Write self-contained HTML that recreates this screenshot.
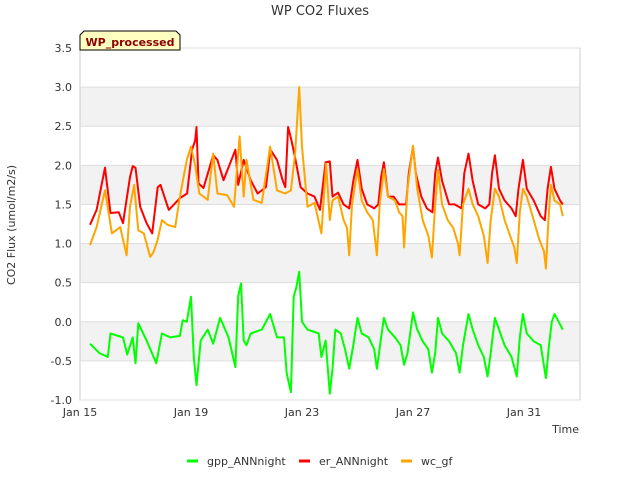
<!DOCTYPE html>
<html><head><meta charset="utf-8"><style>
body{margin:0;background:#fff;}
svg{display:block;font-family:"DejaVu Sans","Liberation Sans",sans-serif;}
</style></head><body>
<svg id="chart" width="640" height="480">
<text x="320" y="15" text-anchor="middle" font-size="13" fill="#333">WP CO2 Fluxes</text>
<g id="bands"></g>
<rect x="80" y="48" width="500" height="352" fill="none" stroke="#ccc"/>
<g id="yticks"></g><g id="xticks"></g>
<g id="series"></g>
<text x="15" y="225" transform="rotate(-90 15 225)" text-anchor="middle" font-size="11" fill="#333">CO2 Flux (umol/m2/s)</text>
<text x="579" y="433" text-anchor="end" font-size="11" fill="#333">Time</text>
<g>
<path d="M80,50 L80,35 L84,31 L176,31 L180,35 L180,50 Z" fill="#ffffc0" stroke="#000" stroke-width="1"/>
<text x="130" y="46" text-anchor="middle" font-size="11" font-weight="bold" fill="#8b0000">WP_processed</text>
</g>
<g>
<g><line x1="187" y1="461" x2="198" y2="461" stroke="#00ff00" stroke-width="3"/><text x="207" y="465" font-size="11" fill="#333">gpp_ANNnight</text></g>
<g><line x1="299" y1="461" x2="310" y2="461" stroke="#ff0000" stroke-width="3"/><text x="319" y="465" font-size="11" fill="#333">er_ANNnight</text></g>
<g><line x1="401" y1="461" x2="412" y2="461" stroke="#ffa500" stroke-width="3"/><text x="421" y="465" font-size="11" fill="#333">wc_gf</text></g>
</g>
</svg>
<script>
const yTicks=[-1.0,-0.5,0.0,0.5,1.0,1.5,2.0,2.5,3.0,3.5];
const xTickDays=[15,19,23,27,31];
const xTickLabels=["Jan 15","Jan 19","Jan 23","Jan 27","Jan 31"];
const erDays=[15.36,15.6,15.9,16.1,16.4,16.55,16.8,16.9,17.0,17.17,17.4,17.6,17.8,17.9,18.2,18.6,18.86,19.04,19.15,19.2,19.27,19.45,19.8,19.95,20.17,20.6,20.7,20.9,21.15,21.4,21.7,21.86,22.1,22.3,22.4,22.5,22.6,22.75,22.95,23.2,23.45,23.65,23.85,24.0,24.1,24.3,24.5,24.7,24.85,25.0,25.15,25.35,25.6,25.75,25.85,25.95,26.1,26.3,26.5,26.75,26.85,27.0,27.1,27.3,27.5,27.7,27.8,27.9,28.05,28.3,28.5,28.75,28.85,29.0,29.15,29.35,29.6,29.75,29.85,29.95,30.1,30.3,30.55,30.7,30.8,30.96,31.1,31.35,31.6,31.75,31.85,31.97,32.1,32.3,32.4];
const erValues=[1.24,1.43,1.97,1.39,1.4,1.26,1.85,1.99,1.97,1.47,1.26,1.13,1.72,1.75,1.43,1.58,1.64,2.2,2.32,2.49,1.77,1.71,2.13,2.07,1.81,2.2,1.75,2.07,1.81,1.64,1.72,2.2,2.07,1.81,1.72,2.49,2.35,2.1,1.72,1.64,1.6,1.43,2.04,2.05,1.6,1.65,1.5,1.45,1.8,2.07,1.7,1.5,1.45,1.5,1.85,2.04,1.6,1.6,1.5,1.5,1.9,2.24,1.9,1.6,1.45,1.4,1.9,2.1,1.8,1.5,1.5,1.45,1.9,2.15,1.8,1.5,1.45,1.5,1.9,2.13,1.7,1.55,1.45,1.35,1.7,2.07,1.7,1.55,1.35,1.3,1.7,1.98,1.7,1.55,1.5];
const wcDays=[15.36,15.6,15.9,16.15,16.45,16.68,16.8,16.95,17.1,17.3,17.53,17.65,17.8,17.95,18.15,18.43,18.6,18.85,19.0,19.15,19.3,19.6,19.8,19.95,20.3,20.55,20.75,20.9,21.0,21.25,21.55,21.85,22.1,22.4,22.6,22.75,22.9,23.0,23.2,23.45,23.7,23.87,24.0,24.1,24.3,24.5,24.62,24.7,24.8,25.0,25.15,25.35,25.55,25.7,25.8,25.95,26.1,26.35,26.5,26.62,26.68,26.8,27.0,27.15,27.35,27.55,27.68,27.8,27.9,28.05,28.25,28.45,28.62,28.68,28.8,29.0,29.15,29.35,29.55,29.69,29.8,29.95,30.1,30.3,30.5,30.65,30.74,30.85,30.96,31.1,31.35,31.55,31.72,31.79,31.88,31.97,32.1,32.3,32.4];
const wcValues=[0.98,1.21,1.68,1.13,1.21,0.85,1.47,1.75,1.17,1.13,0.83,0.89,1.05,1.3,1.24,1.21,1.6,2.07,2.24,2.0,1.64,1.56,2.15,1.64,1.62,1.47,2.37,1.6,2.07,1.56,1.52,2.24,1.68,1.64,1.68,2.15,3.0,2.24,1.47,1.52,1.13,2.02,1.3,1.55,1.6,1.3,1.2,0.85,1.5,1.95,1.55,1.4,1.3,0.85,1.5,1.95,1.6,1.55,1.4,1.35,0.95,1.7,2.25,1.7,1.3,1.1,0.82,1.5,1.94,1.5,1.3,1.2,1.0,0.85,1.5,1.7,1.5,1.35,1.1,0.75,1.3,1.7,1.6,1.3,1.1,0.95,0.75,1.4,1.7,1.6,1.3,1.05,0.9,0.68,1.3,1.75,1.55,1.5,1.35];
const gppDays=[15.36,15.7,16.0,16.1,16.55,16.7,16.9,17.0,17.1,17.4,17.75,17.95,18.25,18.6,18.7,18.85,19.0,19.1,19.2,19.35,19.6,19.8,20.05,20.35,20.6,20.7,20.8,20.9,21.0,21.15,21.55,21.85,22.1,22.35,22.45,22.6,22.7,22.8,22.9,23.0,23.2,23.6,23.7,23.85,24.0,24.1,24.2,24.4,24.55,24.7,24.85,25.0,25.15,25.4,25.6,25.7,25.85,25.95,26.1,26.35,26.55,26.68,26.8,27.0,27.15,27.35,27.55,27.68,27.8,27.9,28.05,28.3,28.55,28.68,28.8,29.0,29.15,29.35,29.55,29.69,29.8,29.95,30.1,30.3,30.55,30.74,30.85,30.96,31.1,31.35,31.6,31.79,31.9,32.0,32.1,32.25,32.4];
const gppValues=[-0.28,-0.4,-0.45,-0.15,-0.2,-0.42,-0.2,-0.53,-0.02,-0.24,-0.53,-0.15,-0.2,-0.18,0.02,0.0,0.32,-0.45,-0.81,-0.24,-0.1,-0.28,0.05,-0.2,-0.58,0.33,0.49,-0.24,-0.3,-0.15,-0.1,0.1,-0.2,-0.2,-0.66,-0.9,0.32,0.45,0.64,0.0,-0.1,-0.15,-0.45,-0.24,-0.92,-0.6,-0.1,-0.15,-0.35,-0.6,-0.3,0.05,-0.15,-0.2,-0.35,-0.6,-0.2,0.05,-0.1,-0.2,-0.3,-0.55,-0.4,0.12,-0.1,-0.25,-0.35,-0.65,-0.4,0.05,-0.15,-0.25,-0.4,-0.65,-0.3,0.1,-0.1,-0.3,-0.45,-0.7,-0.4,0.05,-0.1,-0.3,-0.45,-0.7,-0.2,0.1,-0.15,-0.25,-0.3,-0.72,-0.3,0.0,0.1,0.0,-0.1];

const NS="http://www.w3.org/2000/svg";
const X0=80,X1=580,Y0=400,Y1=48,DMIN=15,PXDAY=27.75;
function xs(d){return X0+(d-DMIN)*PXDAY;}
function ys(v){return Y0-(v+1)*(Y0-Y1)/4.5;}
const bands=document.getElementById('bands');
for(let i=0;i<yTicks.length-1;i++){
  if(i%2===1){
    const r=document.createElementNS(NS,'rect');
    r.setAttribute('x',X0);r.setAttribute('width',X1-X0);
    r.setAttribute('y',ys(yTicks[i+1]));r.setAttribute('height',ys(yTicks[i])-ys(yTicks[i+1]));
    r.setAttribute('fill','#f2f2f2');
    
    
    bands.appendChild(r);
  }
}
const yt=document.getElementById('yticks');
yTicks.forEach(v=>{
  const l=document.createElementNS(NS,'line');
  l.setAttribute('x1',X0);l.setAttribute('x2',X1);l.setAttribute('y1',ys(v));l.setAttribute('y2',ys(v));
  l.setAttribute('stroke','#ddd');
  
  
  yt.appendChild(l);
  const t=document.createElementNS(NS,'text');
  t.setAttribute('x',72);t.setAttribute('y',ys(v)+4);t.setAttribute('text-anchor','end');
  t.setAttribute('font-size','11');t.setAttribute('fill','#333');
  t.textContent=v.toFixed(1);
  
  
  yt.appendChild(t);
});
const xt=document.getElementById('xticks');
xTickDays.forEach((d,i)=>{
  const t=document.createElementNS(NS,'text');
  t.setAttribute('x',xs(d));t.setAttribute('y',416);t.setAttribute('text-anchor','middle');
  t.setAttribute('font-size','11');t.setAttribute('fill','#333');
  t.textContent=xTickLabels[i];
  
  
  xt.appendChild(t);
});
const sg=document.getElementById('series');
function drawLine(days,vals,color,name){
  const p=document.createElementNS(NS,'polyline');
  p.setAttribute('points',days.map((d,i)=>xs(d).toFixed(1)+','+ys(vals[i]).toFixed(1)).join(' '));
  p.setAttribute('fill','none');p.setAttribute('stroke',color);p.setAttribute('stroke-width','2');
  p.setAttribute('stroke-linejoin','round');
  
  
  sg.appendChild(p);
}
drawLine(gppDays,gppValues,'#00ff00','gpp-line');
drawLine(erDays,erValues,'#ff0000','er-line');
drawLine(wcDays,wcValues,'#ffa500','wc-line');
</script>
</body></html>
